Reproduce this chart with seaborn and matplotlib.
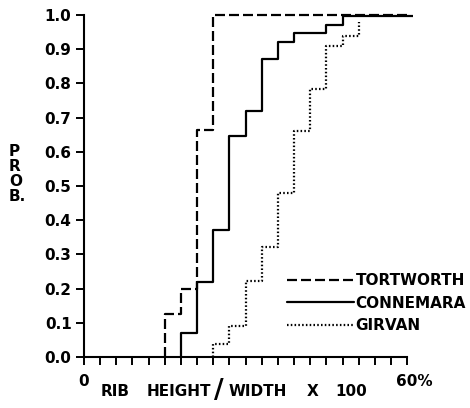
import numpy as np
import pandas as pd
import matplotlib
matplotlib.use('Agg')
import matplotlib.pyplot as plt
import seaborn as sns

# rib height / width x 100 (%) at class boundaries, cumulative probability
tort_x = [15, 15, 18, 21, 24, 60]
tort_p = [0.0, 0.125, 0.20, 0.665, 1.0, 1.0]

conn_x = [18, 18, 21, 24, 27, 30, 33, 36, 39, 45, 48, 61]
conn_p = [0.0, 0.07, 0.22, 0.37, 0.645, 0.72, 0.87, 0.92, 0.947, 0.972, 0.997, 0.997]

girv_x = [24, 24, 27, 30, 33, 36, 39, 42, 45, 48, 51]
girv_p = [0.0, 0.038, 0.09, 0.222, 0.323, 0.48, 0.66, 0.783, 0.91, 0.94, 0.98]

names = ['TORTWORTH', 'CONNEMARA', 'GIRVAN']

# %%
frames = []
for name, xs, ps in zip(names, [tort_x, conn_x, girv_x], [tort_p, conn_p, girv_p]):
    frames.append(pd.DataFrame({'ratio': xs, 'prob': ps, 'locality': name}))
df = pd.concat(frames, ignore_index=True)

sns.set_style('ticks')
plt.rcParams['font.family'] = ['DejaVu Sans']
plt.rcParams['font.weight'] = 'bold'
plt.rcParams['text.color'] = 'black'
plt.rcParams['ytick.labelcolor'] = 'black'
plt.rcParams['xtick.labelcolor'] = 'black'

W, H = 470, 408
fig = plt.figure(figsize=(W / 100, H / 100), dpi=100)
ax = fig.add_axes([84 / W, 1 - 357 / H, (412.7 - 84) / W, (357 - 11.6) / H])


def px(x, y):
    return x / W, 1 - y / H


sns.lineplot(data=df, x='ratio', y='prob', style='locality',
             dashes={'TORTWORTH': (4.5, 1.8), 'CONNEMARA': '', 'GIRVAN': (0.7, 1.0)},
             color='black', estimator=None, sort=False, drawstyle='steps-post',
             lw=1.6, ax=ax)

ax.set_xlim(0, 61)
ax.set_ylim(0, 1.01)
ax.set_xticks(np.arange(0, 61, 3))
ax.set_xticklabels([])
ax.set_yticks(np.arange(0, 1.01, 0.1))
ax.set_yticklabels([f'{v:.1f}' for v in np.arange(0, 1.01, 0.1)], fontsize=11,
                   fontweight='bold', color='black')
ax.tick_params(axis='both', direction='out', length=6, width=1.4, color='black', pad=3)
sns.despine(ax=ax)
ax.spines['left'].set_bounds(0, 1)
ax.spines['bottom'].set_bounds(0, 60)
for s in ['left', 'bottom']:
    ax.spines[s].set_linewidth(1.5)
    ax.spines[s].set_color('black')
ax.set_xlabel('')
ax.set_ylabel('')

handles, labels = ax.get_legend_handles_labels()
ax.legend(handles, labels, frameon=False, loc='upper left',
          bbox_to_anchor=px(287, 273), bbox_transform=fig.transFigure,
          borderpad=0, borderaxespad=0, handlelength=4.4, handletextpad=0.1,
          labelspacing=0.5, labelcolor='black', prop={'size': 11, 'weight': 'bold'})

# axis annotations
tk = dict(fontsize=11, fontweight='bold', va='center', color='black')
fig.text(*px(84, 381), '0', ha='center', **tk)
fig.text(*px(101, 391), 'RIB', ha='left', **tk)
fig.text(*px(147, 391), 'HEIGHT', ha='left', **tk)
fig.text(*px(219, 391), '/', ha='center', fontsize=19, fontweight='bold', va='center',
         color='black')
fig.text(*px(229, 391), 'WIDTH', ha='left', **tk)
fig.text(*px(313, 391), 'X', ha='center', **tk)
fig.text(*px(335, 391), '100', ha='left', **tk)
fig.text(*px(396, 382), '60%', ha='left', **tk)
fig.text(*px(9, 144), 'P\nR\nO\nB.', ha='left', va='top', fontsize=11,
         fontweight='bold', linespacing=1.0, color='black')

plt.savefig('out.png', dpi=100)
